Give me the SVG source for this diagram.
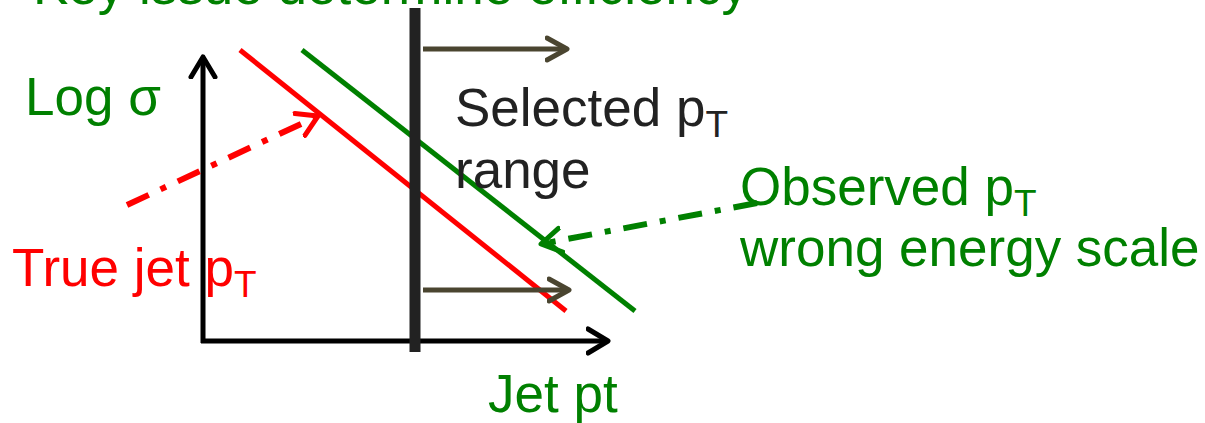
<svg xmlns="http://www.w3.org/2000/svg" width="1205" height="423" viewBox="0 0 1205 423">
<style>
text{font-family:"Liberation Sans",Arial,sans-serif;font-size:53px}
.g{fill:#008000}.r{fill:#ff0000}.k{fill:#222222}
.sub{font-size:37px}
</style>
<defs>
<marker id="ak" markerUnits="userSpaceOnUse" markerWidth="40" markerHeight="40" refX="22" refY="20" orient="auto" viewBox="0 0 40 40">
<polyline points="2,8 22,20 2,32" fill="none" stroke="#000" stroke-width="5" stroke-linecap="round" stroke-linejoin="round"/>
</marker>
<marker id="ab" markerUnits="userSpaceOnUse" markerWidth="40" markerHeight="40" refX="22" refY="20" orient="auto" viewBox="0 0 40 40">
<polyline points="2,9 22,20 2,31" fill="none" stroke="#4a4530" stroke-width="5" stroke-linecap="round" stroke-linejoin="round"/>
</marker>
<marker id="ar" markerUnits="userSpaceOnUse" markerWidth="40" markerHeight="40" refX="22" refY="20" orient="auto" viewBox="0 0 40 40">
<polyline points="2,8 22,20 2,32" fill="none" stroke="#ff0000" stroke-width="5" stroke-linecap="round" stroke-linejoin="round"/>
</marker>
<marker id="ag" markerUnits="userSpaceOnUse" markerWidth="40" markerHeight="40" refX="22" refY="20" orient="auto" viewBox="0 0 40 40">
<polyline points="2,8 22,20 2,32" fill="none" stroke="#008000" stroke-width="5" stroke-linecap="round" stroke-linejoin="round"/>
</marker>
</defs>
<rect width="1205" height="423" fill="#fff"/>
<text id="title" class="g" x="33" y="4">Key issue determine efficiency</text>
<g id="connectors" fill="none">
<line id="yaxis" x1="203" y1="343" x2="203" y2="57" stroke="#000" stroke-width="5" marker-end="url(#ak)"/>
<line id="xaxis" x1="201" y1="341" x2="608" y2="341" stroke="#000" stroke-width="5" marker-end="url(#ak)"/>
<line id="truecurve" x1="240" y1="50" x2="566" y2="311" stroke="#ff0000" stroke-width="5"/>
<line id="obscurve" x1="302" y1="50" x2="635" y2="311" stroke="#008000" stroke-width="5"/>
<line id="cut" x1="415" y1="8" x2="415" y2="352" stroke="#222222" stroke-width="11"/>
<line id="top-range" x1="423" y1="49" x2="567" y2="49" stroke="#4a4530" stroke-width="5" marker-end="url(#ab)"/>
<line id="bottom-range" x1="423" y1="290" x2="569" y2="290" stroke="#4a4530" stroke-width="5" marker-end="url(#ab)"/>
<line id="true-ptr" x1="127" y1="205" x2="318" y2="116" stroke="#ff0000" stroke-width="6" stroke-dasharray="24,13,6,13" marker-end="url(#ar)"/>
<line id="obs-ptr" x1="757" y1="203" x2="541" y2="244" stroke="#008000" stroke-width="6" stroke-dasharray="24,13,6,13" marker-end="url(#ag)"/>
</g>
<g id="label-logsigma"><text class="g" x="25" y="115">Log σ</text></g>
<g id="label-selected"><text class="k" x="455" y="126">Selected p<tspan class="sub" dy="11">T</tspan></text>
<text class="k" x="455" y="188">range</text></g>
<g id="label-observed"><text class="g" x="740" y="205">Observed p<tspan class="sub" dy="11">T</tspan></text>
<text class="g" x="740" y="266">wrong energy scale</text></g>
<g id="label-true"><text class="r" x="12" y="286">True jet p<tspan class="sub" dy="11">T</tspan></text></g>
<g id="label-jetpt"><text class="g" x="488" y="412">Jet pt</text></g>
</svg>
